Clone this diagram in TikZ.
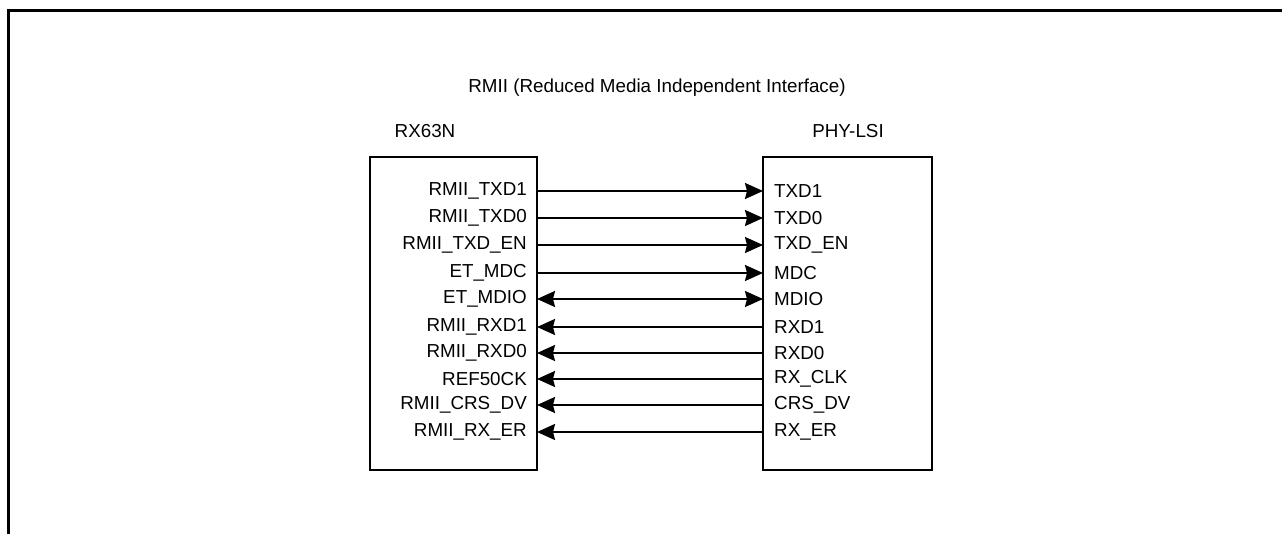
\documentclass[tikz,border=0pt]{standalone}
\usepackage{fontspec}
\setmainfont{Liberation Sans}
\usetikzlibrary{arrows.meta}
\begin{document}
\begin{tikzpicture}[x=1pt,y=-1pt,
  lbl/.style={font=\fontsize{18.8}{22}\selectfont, inner sep=0pt},
  sig/.style={line width=2pt, -{Stealth[length=18pt,width=16pt,inset=2pt]}},
  bidir/.style={line width=2pt, {Stealth[length=18pt,width=16pt,inset=2pt]}-{Stealth[length=18pt,width=16pt,inset=2pt]}}]
\useasboundingbox (0,0) rectangle (1282,534);
% frame
\draw[line width=3pt] (1282,11) -- (8.5,11) -- (8.5,534);
% title and chip names
\node[lbl] (title) at (657,88) {RMII (Reduced Media Independent Interface)};
\node[lbl] (rxname) at (425,131) {RX63N};
\node[lbl] (phyname) at (848,131) {PHY-LSI};
% chips
\draw[line width=2.2pt] (370,157) rectangle (537,470);
\draw[line width=2.2pt] (763,157) rectangle (932,470);
% rows
\foreach \y/\l/\r/\n in {
  191/RMII\_TXD1/TXD1/a, 218/RMII\_TXD0/TXD0/b, 245/RMII\_TXD\_EN/TXD\_EN/c,
  273/ET\_MDC/MDC/d, 299/ET\_MDIO/MDIO/e, 327/RMII\_RXD1/RXD1/f,
  353/RMII\_RXD0/RXD0/g, 379/REF50CK/RX\_CLK/h, 405/RMII\_CRS\_DV/CRS\_DV/i,
  432/RMII\_RX\_ER/RX\_ER/j} {
  \node[lbl, anchor=east] (l\n) at (527,\y) {\l};
  \node[lbl, anchor=west] (r\n) at (774,\y) {\r};
  \coordinate (pl\n) at (537,\y);
  \coordinate (pr\n) at (763,\y);
}
\foreach \n in {a,b,c,d} \draw[sig] (pl\n) -- (pr\n);
\draw[bidir] (ple) -- (pre);
\foreach \n in {f,g,h,i,j} \draw[sig] (pr\n) -- (pl\n);
\end{tikzpicture}
\end{document}
